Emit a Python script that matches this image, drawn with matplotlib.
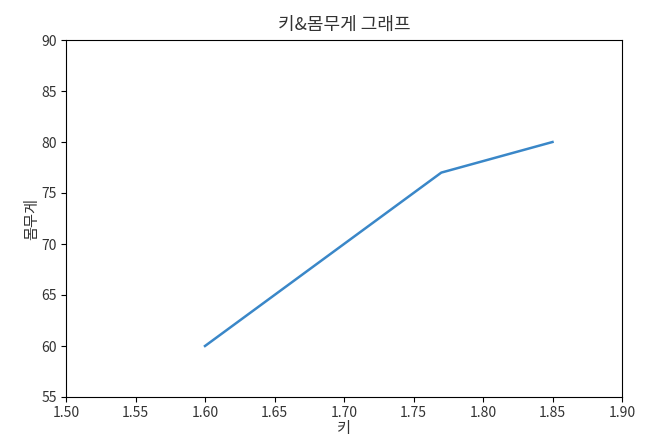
import matplotlib
matplotlib.use("Agg")
import matplotlib.pyplot as plt

plt.rcParams['font.family'] = ['Noto Sans CJK KR', 'DejaVu Sans']
plt.rcParams['text.color'] = '#333333'
plt.rcParams['axes.labelcolor'] = '#333333'
plt.rcParams['xtick.labelcolor'] = '#333333'
plt.rcParams['ytick.labelcolor'] = '#333333'

heights = [1.60, 1.77, 1.85]
weights = [60, 77, 80]

fig = plt.figure(figsize=(6.49, 4.47), dpi=100)
ax = fig.add_axes([66 / 649, 1 - 397 / 447, (622 - 66) / 649, (397 - 40) / 447])
ax.plot(heights, weights, color='#3a87c8', linewidth=1.8)
ax.set_xlim(1.5, 1.9)
ax.set_ylim(55, 90)
ax.set_xticks([1.50, 1.55, 1.60, 1.65, 1.70, 1.75, 1.80, 1.85, 1.90])
ax.set_xticklabels([f"{v:.2f}" for v in ax.get_xticks()])
ax.tick_params(labelsize=10, pad=3)
ax.set_title("키&몸무게 그래프", fontsize=13, pad=7)
ax.set_xlabel("키", fontsize=11, labelpad=0)
ax.set_ylabel("몸무게", fontsize=11, labelpad=1)
fig.savefig("out.png", dpi=100)
